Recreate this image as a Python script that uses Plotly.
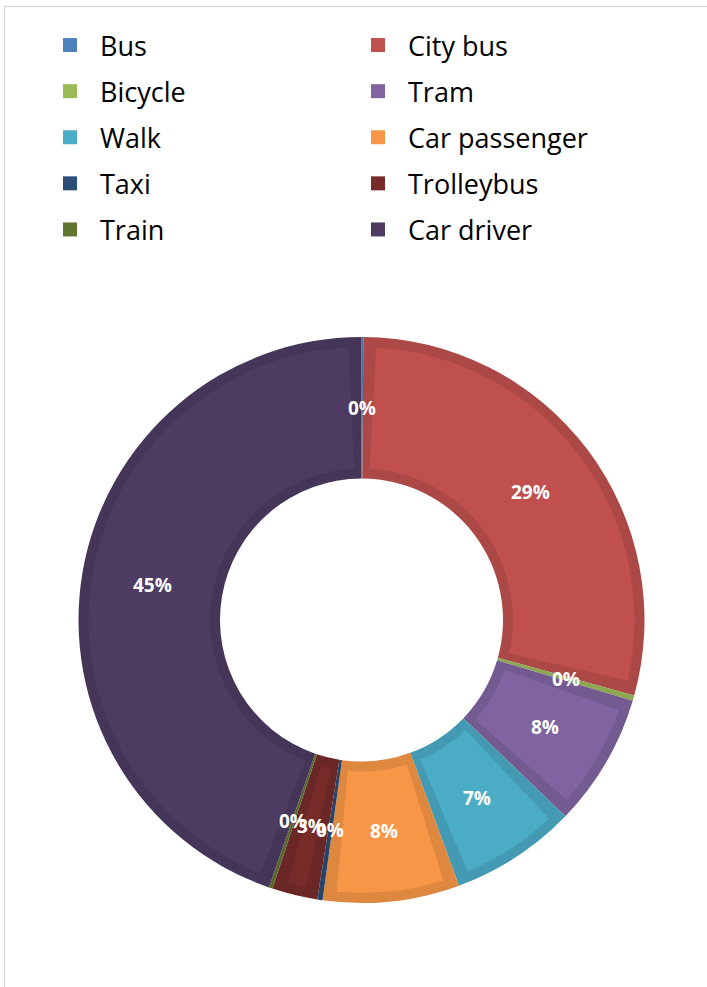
import math
import plotly.graph_objects as go

# Travel mode shares (percent of trips), in drawing order starting at 12 o'clock
categories = ["Bus", "City bus", "Bicycle", "Tram", "Walk",
              "Car passenger", "Taxi", "Trolleybus", "Train", "Car driver"]
shares = [0.1, 29.2, 0.3, 7.6, 7.2, 7.8, 0.3, 2.6, 0.2, 44.7]
fill_colors = ["#4F81BD", "#C0504D", "#9BBB59", "#8064A2", "#4BACC6",
               "#F79646", "#2C4D75", "#772C2A", "#5F7530", "#4D3B62"]

W, H = 707, 987
CX, CY = 361.5, 620.0      # donut centre, px
R_OUT = 283.0              # outer radius, px
HOLE = 0.5
BAND = 10.0                # width of the darker edge band, px


def darker(hex_color, f=0.9):
    h = hex_color.lstrip("#")
    r, g, b = (int(h[i:i + 2], 16) for i in (0, 2, 4))
    return "#{:02X}{:02X}{:02X}".format(int(r * f), int(g * f), int(b * f))


def domain(radius):
    return dict(x=[(CX - radius) / W, (CX + radius) / W],
                y=[1 - (CY + radius) / H, 1 - (CY - radius) / H])


band_colors = [darker(c) for c in fill_colors]
total = sum(shares)

fig = go.Figure()

# Full ring in the darker edge colours
fig.add_trace(go.Pie(
    labels=categories, values=shares, sort=False, direction="clockwise",
    rotation=0, hole=HOLE, domain=domain(R_OUT),
    marker=dict(colors=band_colors, line=dict(width=0)),
    textinfo="none", showlegend=False,
    hovertemplate="%{label}: %{percent}<extra></extra>",
))

# Lighter inner face of every slice, inset by the band on all sides
r_in = R_OUT * HOLE
r_face_out = R_OUT - BAND
r_face_in = r_in + BAND
r_mid = (r_in + R_OUT) / 2
gap = BAND / (2 * math.pi * r_mid) * total
face_vals, face_cols = [], []
for v, c in zip(shares, fill_colors):
    if v > 2 * gap:
        face_vals += [gap, v - 2 * gap, gap]
    else:
        face_vals += [v, 0, 0]
    face_cols += ["rgba(0,0,0,0)", c, "rgba(0,0,0,0)"]

fig.add_trace(go.Pie(
    values=face_vals, sort=False, direction="clockwise", rotation=0,
    hole=r_face_in / r_face_out, domain=domain(r_face_out),
    marker=dict(colors=face_cols, line=dict(width=0)),
    textinfo="none", hoverinfo="skip", showlegend=False,
))

# Legend entries: two columns of five, filled row by row
for i, (name, col) in enumerate(zip(categories, fill_colors)):
    fig.add_trace(go.Scatter(
        x=[None], y=[None], mode="markers", name=name,
        marker=dict(symbol="square", size=14, color=col),
        legend="legend" if i % 2 == 0 else "legend2",
        legendgroup=name, hoverinfo="skip",
    ))

# Percentage labels at the middle of the ring
label_r = (1 + HOLE) / 2
cum = 0.0
for v in shares:
    theta = 2 * math.pi * (cum + v / 2) / total
    cum += v
    fig.add_annotation(
        x=label_r * math.sin(theta), y=label_r * math.cos(theta),
        xref="x", yref="y", showarrow=False,
        text=f"{round(v / total * 100):.0f}%",
        font=dict(family="Open Sans", size=19, color="white", weight="bold"),
    )

legend_style = dict(
    orientation="v", y=1 - 21 / H, xanchor="left", yanchor="top",
    traceorder="grouped", itemwidth=50, tracegroupgap=8,
    bgcolor="rgba(0,0,0,0)",
    font=dict(family="Open Sans", size=27, color="#000000"),
)

dom = domain(R_OUT)
fig.update_layout(
    width=W, height=H, autosize=False,
    margin=dict(l=0, r=0, t=0, b=0),
    paper_bgcolor="white", plot_bgcolor="rgba(0,0,0,0)",
    xaxis=dict(domain=dom["x"], range=[-1, 1], visible=False, fixedrange=True),
    yaxis=dict(domain=dom["y"], range=[-1, 1], visible=False, fixedrange=True),
    legend=dict(x=40 / W, **legend_style),
    legend2=dict(x=348 / W, **legend_style),
    shapes=[
        dict(type="line", xref="paper", yref="paper",
             x0=4.5 / W, x1=1, y0=1 - 6.5 / H, y1=1 - 6.5 / H,
             line=dict(color="#D9D9D9", width=1.5)),
        dict(type="line", xref="paper", yref="paper",
             x0=4.5 / W, x1=4.5 / W, y0=0, y1=1 - 6.5 / H,
             line=dict(color="#D9D9D9", width=1.5)),
    ],
)

fig.write_html("out.html")
